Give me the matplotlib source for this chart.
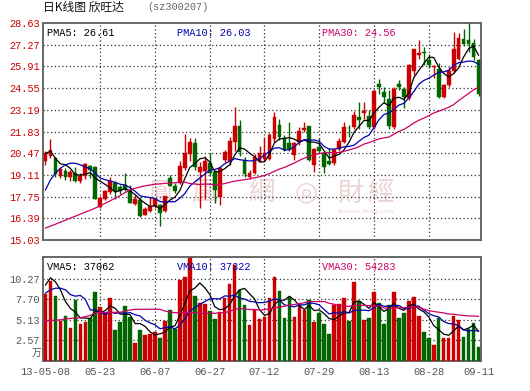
import matplotlib
matplotlib.use('Agg')
import matplotlib.pyplot as plt
import numpy as np

# ---------------- data ----------------
title_cn = '日K线图 欣旺达'
title_code = '(sz300207)'
date_labels = ['13-05-08', '05-23', '06-07', '06-27', '07-12', '07-29', '08-13', '08-28', '09-11']
date_idx = [0, 11, 22, 33, 44, 55, 66, 77, 87]

price_ticks = [15.03, 16.39, 17.75, 19.11, 20.47, 21.83, 23.19, 24.55, 25.91, 27.27, 28.63]
vol_ticks = [2.57, 5.13, 7.70, 10.27]
vol_top = 13.0

opens = [19.95, 20.30, 20.19, 19.05, 19.38, 18.97, 19.22, 18.70, 19.01, 19.67,
         19.63, 17.09, 17.61, 18.01, 18.63, 18.34, 18.45, 18.15, 17.30, 17.55,
         16.61, 16.82, 17.13, 17.24, 16.82, 18.90, 18.43, 18.63, 19.55, 20.40,
         21.10, 19.30, 19.38, 19.84, 19.32, 17.72, 20.03, 20.01, 21.19, 22.17,
         20.05, 18.95, 19.24, 20.00, 20.09, 20.11, 21.38, 22.24, 21.40, 21.09,
         20.36, 21.18, 21.93, 22.17, 19.70, 20.88, 20.51, 19.95, 19.84, 20.72,
         21.20, 22.08, 22.09, 22.76, 23.00, 22.80, 22.09, 24.80, 24.32, 23.84,
         22.09, 24.80, 24.49, 23.90, 25.63, 26.65, 26.80, 26.30, 25.85, 25.72,
         23.97, 24.74, 25.63, 26.40, 27.65, 27.55, 27.38, 26.30]
highs = [20.63, 21.36, 20.25, 19.60, 19.53, 19.42, 19.63, 19.25, 19.84, 19.72,
         19.66, 17.76, 18.17, 18.97, 18.72, 18.50, 19.22, 18.45, 17.85, 17.75,
         17.12, 17.72, 17.65, 17.30, 17.80, 19.10, 18.60, 19.95, 21.70, 21.40,
         21.40, 19.90, 20.30, 20.50, 19.40, 19.60, 20.70, 21.50, 23.36, 22.55,
         20.22, 19.40, 20.40, 20.92, 21.50, 21.75, 23.07, 22.60, 21.60, 22.45,
         21.20, 22.09, 22.43, 22.20, 20.80, 21.40, 20.55, 20.78, 20.80, 21.40,
         22.45, 22.25, 23.13, 23.70, 23.70, 23.17, 24.40, 25.15, 24.63, 24.42,
         24.60, 25.05, 24.60, 26.05, 27.00, 27.55, 27.10, 26.70, 26.00, 26.13,
         24.80, 25.88, 28.07, 28.01, 28.28, 28.63, 27.60, 26.35]
lows = [19.70, 20.15, 18.95, 18.90, 18.80, 18.70, 18.65, 18.62, 18.85, 18.90,
        17.60, 17.03, 17.55, 17.92, 17.60, 17.90, 18.10, 17.35, 17.22, 16.45,
        16.58, 16.78, 17.03, 15.88, 16.78, 18.40, 17.95, 18.55, 19.40, 20.00,
        19.40, 17.03, 17.60, 19.10, 17.34, 17.20, 19.90, 19.70, 20.60, 20.30,
        19.00, 18.85, 19.15, 19.90, 20.00, 20.05, 21.20, 21.30, 20.60, 20.60,
        20.05, 21.00, 21.80, 19.95, 19.32, 20.50, 19.26, 19.70, 19.75, 20.60,
        21.10, 21.50, 22.00, 22.00, 22.60, 22.00, 22.00, 24.20, 23.60, 22.00,
        22.00, 24.40, 23.28, 23.80, 25.40, 26.40, 26.00, 25.80, 25.20, 23.90,
        23.90, 24.60, 25.50, 26.30, 27.20, 26.80, 26.30, 24.05]
closes = [20.47, 20.67, 19.15, 19.50, 18.97, 19.28, 18.70, 19.05, 19.80, 19.40,
          17.62, 17.67, 18.07, 18.74, 18.07, 18.13, 18.20, 17.38, 17.61, 16.51,
          16.99, 17.17, 17.59, 16.72, 17.76, 18.43, 18.07, 19.67, 20.51, 21.20,
          19.60, 19.60, 20.01, 19.22, 18.17, 19.53, 20.56, 21.26, 22.17, 20.52,
          19.14, 19.26, 20.24, 20.47, 20.51, 21.61, 22.74, 21.48, 20.67, 20.72,
          21.13, 21.88, 22.05, 20.05, 20.72, 20.63, 19.61, 19.80, 20.67, 21.26,
          22.09, 22.02, 22.86, 22.55, 23.09, 22.09, 24.38, 24.63, 23.97, 22.17,
          24.47, 24.63, 23.97, 25.99, 26.97, 26.72, 26.76, 25.99, 25.92, 23.97,
          24.74, 25.63, 27.03, 27.72, 27.34, 27.34, 26.51, 24.17]
volumes = [8.41, 10.06, 8.15, 4.98, 5.62, 4.09, 7.65, 4.60, 4.90, 5.32,
           8.58, 6.76, 5.96, 7.82, 3.84, 4.90, 6.89, 5.53, 2.23, 3.84,
           3.20, 3.42, 3.63, 2.87, 5.02, 6.38, 4.05, 10.10, 10.48, 12.84,
           8.07, 7.31, 7.14, 6.25, 5.24, 6.12, 7.86, 9.63, 11.96, 8.92,
           7.01, 4.48, 6.38, 5.24, 5.53, 7.86, 10.48, 8.79, 5.36, 7.99,
           5.53, 7.01, 6.38, 7.65, 4.90, 6.04, 4.60, 3.33, 7.01, 7.14,
           7.86, 5.02, 9.93, 7.52, 5.11, 5.36, 8.58, 7.31, 4.60, 7.01,
           8.66, 5.36, 6.04, 7.44, 8.03, 5.62, 3.60, 2.87, 2.06, 5.40,
           2.87, 2.87, 5.60, 5.10, 3.00, 4.00, 4.70, 1.75]

ma5_head = [20.45, 20.60, 20.15, 19.80]
ma10_head = [18.17, 18.80, 19.22, 19.53, 19.74, 19.84, 19.84, 19.74, 19.60]
ma30_head = [15.78, 15.90, 16.02, 16.15, 16.27, 16.40, 16.52, 16.65, 16.78, 16.90,
             17.03, 17.18, 17.33, 17.49, 17.65, 17.82, 18.00, 18.17, 18.27, 18.35,
             18.42, 18.48, 18.52, 18.55, 18.58, 18.60, 18.62, 18.64, 18.66]
vma5_head = [9.50, 10.40, 9.90, 8.90]
vma10_head = [8.50, 8.90, 9.10, 9.10, 8.90, 8.30, 8.10, 8.20, 7.70]
vma30_head = [4.98, 5.05, 5.10, 5.15, 5.25, 5.32, 5.36, 5.40, 5.55, 5.70,
              6.04, 6.06, 6.08, 6.08, 6.08, 6.10, 6.20, 6.38, 6.46, 6.46,
              6.46, 6.46, 6.46, 6.46, 6.25, 6.12, 6.04, 6.04, 6.04]

pma_labels = ['PMA5: 26.61', 'PMA10: 26.03', 'PMA30: 24.56']
vma_labels = ['VMA5: 37062', 'VMA10: 37322', 'VMA30: 54283']
wm_chars = ['鳳', '凰', '網', '財', '經']
wm_sub = 'finance.ifeng.com'

# ---------------- styling ----------------
RED = '#cc0000'
GREEN = '#006600'
LINE_COLORS = ['#000000', '#0000aa', '#cc0066']
MONO = 'Liberation Mono'
CJK = ['Noto Sans CJK SC', 'DejaVu Sans']
FRAME = '#666666'
GRID = '#333333'
WM = '#ecd4d4'

W, H = 530, 391
fig = plt.figure(figsize=(W / 100, H / 100), dpi=100)
fig.patch.set_facecolor('white')


def rect(x0, y0, x1, y1):
    return [x0 / W, 1 - y1 / H, (x1 - x0) / W, (y1 - y0) / H]


def fx(px):
    return px / W


def fy(py):
    return 1 - py / H


def moving(vals, n, head):
    out = list(head)
    for i in range(len(head), len(vals)):
        out.append(float(np.mean(vals[i - n + 1:i + 1])))
    return out


n = len(closes)
x = np.arange(n)
o = np.array(opens); c = np.array(closes); hi = np.array(highs); lo = np.array(lows)
v = np.array(volumes)
up = c >= o
cols = [RED if u else GREEN for u in up]

ax = fig.add_axes(rect(43, 23, 481, 240))
axv = fig.add_axes(rect(43, 257, 481, 361))

for a in (ax, axv):
    a.set_xlim(-0.5, n - 0.5)
    for s in a.spines.values():
        s.set_color(FRAME)
        s.set_linewidth(1.4)
    a.tick_params(length=0)
    for xi in date_idx[1:-1]:
        a.axvline(xi, color=GRID, lw=0.9, ls=(0, (1, 2)), zorder=1)

# watermark
wm = dict(color=WM, fontsize=19, va='center', ha='center',
          family=['Noto Sans CJK TC', 'DejaVu Sans'], transform=fig.transFigure, zorder=0.5)
for ch, px in zip(wm_chars, [160, 204, 262, 350, 380]):
    ax.text(fx(px), fy(193), ch, **wm)
ax.text(fx(306), fy(193), '◎', color=WM, fontsize=19, va='center', ha='center',
        transform=fig.transFigure, zorder=0.5)
ax.text(fx(366), fy(212), wm_sub, color=WM, fontsize=4.5, va='center',
        ha='center', transform=fig.transFigure, zorder=0.5)

# price panel
ax.set_ylim(price_ticks[0], price_ticks[-1])
for yv in price_ticks[1:-1]:
    ax.axhline(yv, color=GRID, lw=0.9, ls=(0, (1, 2)), zorder=1)
ax.vlines(x, lo, hi, colors=cols, lw=1.0, zorder=3)
body_h = np.maximum(np.abs(c - o), 0.04)
ax.bar(x, body_h, bottom=np.minimum(o, c), width=0.76, color=cols, edgecolor=cols,
       linewidth=0.3, zorder=4)
for ma, col in zip([moving(closes, 5, ma5_head), moving(closes, 10, ma10_head),
                    moving(closes, 30, ma30_head)], LINE_COLORS):
    ax.plot(x, ma, color=col, lw=0.9, zorder=5)
ax.set_yticks(price_ticks)
ax.set_yticklabels(['%.2f' % t for t in price_ticks], color=RED, family=MONO, fontsize=7.4)
ax.tick_params(axis='y', pad=2)
ax.set_xticks([])

# volume panel
axv.set_ylim(0, vol_top)
for yv in vol_ticks:
    axv.axhline(yv, color=GRID, lw=0.9, ls=(0, (1, 2)), zorder=1)
axv.bar(x, v, width=0.72, color=cols, edgecolor=cols, linewidth=0.3, zorder=3)
for ma, col in zip([moving(volumes, 5, vma5_head), moving(volumes, 10, vma10_head),
                    moving(volumes, 30, vma30_head)], LINE_COLORS):
    axv.plot(x, ma, color=col, lw=0.9, zorder=5)
axv.set_yticks(vol_ticks)
axv.set_yticklabels(['%.2f' % t for t in vol_ticks], color='#555555', family=MONO, fontsize=7.4)
axv.tick_params(axis='y', pad=2)
axv.set_xticks(date_idx)
axv.set_xticklabels(date_labels, color='#555555', family=MONO, fontsize=7.6)
axv.tick_params(axis='x', pad=4)

# labels
fig.text(fx(43), fy(7.5), title_cn, family=CJK, fontsize=8.5, va='center', ha='left', color='#111111')
fig.text(fx(147), fy(7.5), title_code, family=MONO, fontsize=7.4, va='center', ha='left', color='#666666')
for lab, col, px in zip(pma_labels, LINE_COLORS, [47, 177, 322]):
    fig.text(fx(px), fy(32.5), lab, family=MONO, fontsize=7.4, va='center', ha='left', color=col, zorder=6)
for lab, col, px in zip(vma_labels, LINE_COLORS, [47, 177, 322]):
    fig.text(fx(px), fy(266.5), lab, family=MONO, fontsize=7.4, va='center', ha='left', color=col, zorder=6)
fig.text(fx(41), fy(353), '万', family=CJK, fontsize=7, va='center', ha='right', color='#555555')

fig.savefig('out.png', dpi=100, facecolor='white')
